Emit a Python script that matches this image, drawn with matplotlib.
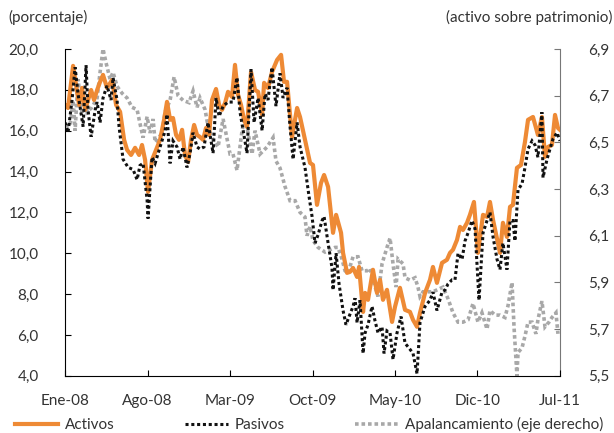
import matplotlib
matplotlib.use("Agg")
import matplotlib.pyplot as plt

plt.rcParams['font.family'] = ['Lato', 'DejaVu Sans']

# months since Ene-08 (x) and values
activos_m = [0.00, 0.25, 0.68, 0.93, 1.19, 1.44, 1.70, 1.95, 2.21, 2.46, 2.72, 2.97, 3.22, 3.56,
             3.99, 4.33, 4.67, 5.01, 5.26, 5.60, 5.94, 6.28, 6.53, 6.79, 7.04, 7.38, 7.72, 8.06,
             8.40, 8.65, 8.91, 9.16, 9.42, 9.67, 9.93, 10.18, 10.44, 10.69, 10.95, 11.20, 11.45,
             11.71, 11.96, 12.22, 12.47, 12.81, 13.07, 13.32, 13.58, 13.83, 14.17, 14.42, 14.68,
             14.93, 15.19, 15.44, 15.78, 16.12, 16.38, 16.72, 16.89, 17.22, 17.56, 17.99, 18.33,
             18.58, 18.84, 19.26, 19.69, 19.94, 20.36, 20.79, 21.04, 21.38, 21.72, 21.98, 22.32,
             22.74, 23.00, 23.42, 23.59, 23.93, 24.18, 24.44, 24.78, 24.95, 25.29, 25.46, 25.71,
             26.13, 26.47, 26.73, 26.98, 27.32, 27.75, 28.00, 28.42, 28.85, 29.27, 29.53, 29.87,
             30.12, 30.55, 30.97, 31.22, 31.56, 31.99, 32.41, 32.67, 32.92, 33.26, 33.52, 33.77,
             34.11, 34.36, 34.70, 35.04, 35.47, 35.81, 36.06, 36.32, 36.91, 37.16, 37.50, 37.76,
             38.01, 38.35, 38.69, 39.03, 39.29, 39.71, 40.13, 40.47, 40.73, 40.98, 41.32, 41.58,
             41.83, 42.00]
activos = [17.26, 17.11, 19.17, 18.24, 17.26, 18.09, 17.02, 17.50, 17.99, 17.50, 17.99, 18.39,
           18.73, 18.09, 18.48, 17.26, 16.92, 15.55, 15.06, 14.81, 15.16, 14.81, 15.30, 14.57,
           13.00, 14.57, 15.06, 15.55, 16.53, 17.41, 16.53, 16.62, 15.79, 15.55, 16.04, 14.81,
           14.47, 15.55, 16.28, 15.79, 15.69, 15.55, 16.13, 15.79, 17.50, 18.04, 17.26, 17.02,
           17.36, 17.90, 17.65, 19.22, 17.75, 17.26, 16.53, 16.18, 18.87, 17.99, 17.90, 16.77,
           18.34, 18.09, 18.87, 19.46, 19.71, 18.39, 18.39, 15.69, 17.11, 16.67, 15.55, 14.42,
           14.32, 12.37, 13.44, 13.83, 13.25, 11.00, 11.88, 11.00, 10.02, 9.04, 9.09, 9.28,
           8.84, 9.33, 7.13, 8.06, 7.72, 9.19, 8.06, 8.70, 7.72, 8.21, 6.64, 7.38, 8.31, 7.23,
           7.13, 6.74, 6.40, 7.08, 8.06, 8.70, 9.33, 8.55, 9.53, 9.68, 10.02, 10.17, 10.65,
           11.29, 11.14, 11.49, 11.88, 12.51, 10.02, 11.88, 11.78, 12.51, 11.63, 10.02, 11.49,
           10.80, 12.27, 12.37, 14.18, 14.32, 15.45, 16.53, 16.67, 15.79, 16.67, 14.72, 15.20,
           15.30, 16.77, 16.13, 16.04]

pasivos_m = [0.00, 0.25, 0.59, 0.85, 1.10, 1.53, 1.78, 1.95, 2.21, 2.55, 2.72, 2.97, 3.22, 3.56,
             3.90, 4.07, 4.41, 4.58, 4.92, 5.35, 5.77, 6.11, 6.36, 6.62, 6.96, 7.04, 7.38, 7.64,
             8.06, 8.49, 8.65, 8.91, 9.16, 9.50, 9.76, 10.01, 10.35, 10.61, 10.86, 11.20, 11.45,
             11.79, 12.13, 12.56, 12.81, 13.07, 13.41, 13.83, 14.25, 14.59, 14.85, 15.44, 15.78,
             16.04, 16.38, 16.72, 16.97, 17.22, 17.56, 17.90, 18.24, 18.50, 18.84, 19.09, 19.35,
             19.69, 19.94, 20.36, 20.70, 20.96, 21.21, 21.47, 21.81, 21.98, 22.32, 22.65, 22.74,
             23.00, 23.25, 23.59, 23.84, 24.10, 24.44, 24.61, 24.78, 25.03, 25.29, 25.46, 25.71,
             26.05, 26.30, 26.56, 26.90, 27.07, 27.32, 27.58, 27.83, 28.17, 28.51, 28.85, 29.27,
             29.53, 29.87, 30.12, 30.55, 30.97, 31.22, 31.56, 31.99, 32.24, 32.50, 32.84, 33.09,
             33.35, 33.69, 33.94, 34.20, 34.53, 34.79, 35.13, 35.47, 35.81, 36.06, 36.32, 36.66,
             36.91, 37.16, 37.50, 37.76, 38.01, 38.18, 38.44, 38.78, 39.03, 39.29, 39.63, 39.88,
             40.13, 40.47, 40.56, 40.90, 41.15, 41.41, 41.75, 42.00]
pasivos = [16.4, 15.9, 17.5, 19.1, 17.8, 16.2, 19.2, 17.0, 15.7, 17.0, 17.4, 16.4, 17.6, 18.2,
           17.5, 18.6, 17.5, 16.2, 14.6, 14.2, 14.1, 13.6, 14.3, 14.4, 12.6, 11.7, 14.7, 14.4,
           15.2, 16.0, 16.8, 14.4, 15.5, 15.2, 14.6, 15.2, 14.2, 14.9, 15.9, 15.2, 15.1, 15.2,
           16.4, 14.9, 17.6, 16.7, 17.2, 17.4, 17.4, 18.6, 16.9, 14.9, 19.0, 16.4, 17.6, 16.0,
           17.8, 17.5, 19.1, 17.2, 18.8, 17.6, 18.1, 16.2, 14.6, 16.4, 15.2, 14.2, 12.8, 11.8,
           10.5, 10.9, 11.6, 11.8, 10.5, 9.3, 8.2, 10.0, 8.5, 7.2, 6.5, 6.9, 7.4, 7.8, 6.6, 7.7,
           5.1, 6.1, 6.5, 7.4, 6.7, 6.1, 6.4, 5.1, 6.2, 6.1, 4.8, 6.1, 6.9, 5.6, 5.3, 5.1, 4.1,
           6.6, 7.4, 7.7, 8.1, 7.2, 8.1, 8.2, 8.5, 8.7, 8.7, 10.0, 9.7, 10.6, 11.0, 11.6, 11.2,
           7.7, 11.0, 11.6, 12.0, 10.8, 9.7, 9.2, 10.5, 9.2, 11.6, 11.6, 10.6, 13.1, 13.4, 14.2,
           15.1, 15.5, 15.3, 14.7, 16.9, 13.7, 14.6, 15.1, 15.6, 15.9, 15.5]

apal_m = [0.00, 0.42, 0.68, 0.85, 1.10, 1.44, 1.70, 1.87, 2.29, 2.72, 2.97, 3.22, 3.48, 3.82,
          4.07, 4.41, 4.84, 5.26, 5.68, 6.11, 6.36, 6.62, 6.96, 7.21, 7.47, 7.64, 7.81, 8.23,
          8.49, 8.91, 9.25, 9.59, 10.01, 10.52, 10.86, 11.20, 11.45, 11.88, 12.13, 12.56, 12.98,
          13.41, 14.00, 14.25, 14.59, 15.02, 15.27, 15.53, 15.87, 16.12, 16.55, 17.14, 17.65,
          17.90, 18.24, 18.67, 19.09, 19.52, 19.94, 20.36, 20.53, 20.79, 21.04, 21.47, 22.06,
          22.49, 22.91, 23.16, 23.50, 23.76, 24.01, 24.44, 24.86, 25.20, 25.62, 25.88, 26.13,
          26.56, 26.90, 27.32, 27.58, 27.83, 28.09, 28.26, 28.68, 28.85, 29.27, 29.70, 29.95,
          30.12, 30.38, 30.80, 31.22, 31.65, 32.07, 32.50, 32.92, 33.35, 33.77, 34.20, 34.62,
          35.04, 35.38, 35.81, 36.06, 36.49, 36.91, 37.33, 37.59, 37.93, 38.10, 38.35, 38.44,
          38.78, 39.03, 39.29, 39.63, 39.96, 40.13, 40.47, 40.73, 41.07, 41.32, 41.66, 41.83]
apal = [6.57, 6.57, 6.68, 6.55, 6.77, 6.62, 6.69, 6.63, 6.65, 6.69, 6.80, 6.90, 6.84, 6.77,
        6.80, 6.74, 6.71, 6.69, 6.65, 6.64, 6.58, 6.52, 6.61, 6.54, 6.60, 6.50, 6.51, 6.54,
        6.63, 6.68, 6.78, 6.70, 6.68, 6.67, 6.72, 6.65, 6.69, 6.64, 6.57, 6.51, 6.48, 6.60,
        6.45, 6.45, 6.38, 6.55, 6.61, 6.54, 6.45, 6.55, 6.45, 6.48, 6.52, 6.42, 6.39, 6.31,
        6.25, 6.25, 6.20, 6.18, 6.10, 6.14, 6.08, 6.05, 6.03, 6.04, 6.05, 6.05, 6.00, 5.95,
        5.94, 6.01, 6.01, 5.95, 5.95, 5.96, 5.91, 5.84, 5.98, 6.05, 6.09, 5.98, 5.88, 6.00,
        5.98, 5.92, 5.91, 5.92, 5.88, 5.84, 5.86, 5.86, 5.86, 5.87, 5.88, 5.83, 5.77, 5.73,
        5.73, 5.74, 5.81, 5.73, 5.77, 5.70, 5.78, 5.76, 5.76, 5.75, 5.80, 5.90, 5.71, 5.50,
        5.60, 5.62, 5.67, 5.73, 5.73, 5.68, 5.74, 5.82, 5.71, 5.73, 5.75, 5.77, 5.68]

xticks = [0, 7, 14, 21, 28, 35, 42]
xlabels = ["Ene-08", "Ago-08", "Mar-09", "Oct-09", "May-10", "Dic-10", "Jul-11"]
left_ticks = [4, 6, 8, 10, 12, 14, 16, 18, 20]
right_ticks = [5.5, 5.7, 5.9, 6.1, 6.3, 6.5, 6.7, 6.9]

orange = '#EE8A35'
grey = '#A8A8A8'
txt = '#333333'

fig = plt.figure(figsize=(6.14, 4.33), dpi=100)
ax = fig.add_axes([0.106, 0.132, 0.806, 0.755])
ax2 = ax.twinx()
ax.set_zorder(ax2.get_zorder() + 1)
ax.patch.set_visible(False)

l3, = ax2.plot(apal_m, apal, color=grey, lw=2.6, linestyle=(0, (1, 0.8)),
               dash_joinstyle='miter', label='Apalancamiento (eje derecho)')
l1, = ax.plot(activos_m, activos, color=orange, lw=3.0, label='Activos')
l2, = ax.plot(pasivos_m, pasivos, color='#111111', lw=2.2, linestyle=(0, (1, 0.9)),
              dash_joinstyle='miter', label='Pasivos')

ax.set_xlim(0, 42)
ax.set_ylim(4, 20)
ax2.set_ylim(5.5, 6.9)
ax.set_xticks(xticks)
ax.set_xticklabels(xlabels)
ax.set_yticks(left_ticks)
ax.set_yticklabels([f"{v:.1f}".replace('.', ',') for v in left_ticks])
ax2.set_yticks(right_ticks)
ax2.set_yticklabels([f"{v:.1f}".replace('.', ',') for v in right_ticks])

for a in (ax, ax2):
    a.spines['top'].set_visible(False)
ax.spines['right'].set_visible(False)
ax2.spines['left'].set_visible(False)
ax2.spines['bottom'].set_visible(False)
ax2.spines['right'].set_color('#777777')
ax.tick_params(axis='y', direction='in', length=4, pad=19, labelsize=11, labelcolor=txt)
ax.tick_params(axis='x', direction='in', length=4, pad=13, labelsize=11, labelcolor=txt)
ax2.tick_params(axis='y', direction='in', length=4, pad=20, labelsize=11, labelcolor=txt,
                color='#777777')
for lab in ax2.get_yticklabels():
    lab.set_horizontalalignment('left')

fig.text(0.013, 0.96, "(porcentaje)", fontsize=11, color=txt, ha='left', va='center')
fig.text(0.997, 0.96, "(activo sobre patrimonio)", fontsize=11, color=txt, ha='right',
         va='center')

fig.legend(handles=[l1, l2, l3], loc='lower left', bbox_to_anchor=(0.015, -0.012), ncol=3,
           frameon=False, fontsize=11, handlelength=2.8, handletextpad=0.45,
           columnspacing=4.6, borderaxespad=0, labelcolor=txt)

fig.savefig("out.png", dpi=100)
